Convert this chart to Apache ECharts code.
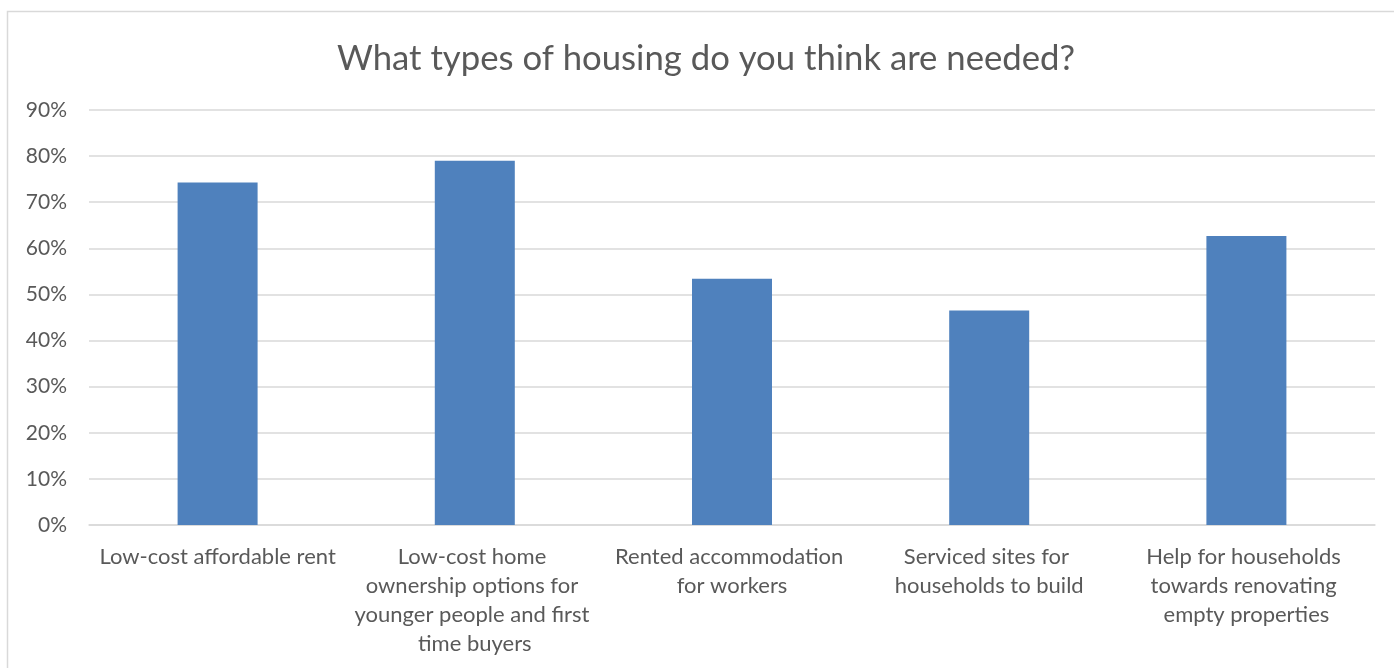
<!DOCTYPE html>
<html>
<head>
<meta charset="utf-8">
<script src="https://cdn.jsdelivr.net/npm/echarts@6/dist/echarts.min.js"></script>
<style>
html,body{margin:0;padding:0;background:#fff;}
#chart{width:1394px;height:668px;}
</style>
</head>
<body>
<div id="chart"></div>
<script>
const titleText = 'What types of housing do you think are needed?';
const categories = [
  'Low-cost affordable rent',
  'Low-cost home ownership options for younger people and first time buyers',
  'Rented accommodation for workers',
  'Serviced sites for households to build',
  'Help for households towards renovating empty properties'
];
const values = [74.3, 79.0, 53.4, 46.5, 62.7];
const yTicks = [0, 10, 20, 30, 40, 50, 60, 70, 80, 90];

const chart = echarts.init(document.getElementById('chart'));
const FONT = 'Lato';
chart.setOption({
  animation: false,
  backgroundColor: '#fff',
  graphic: [{
    type: 'rect',
    shape: {x: 7.5, y: 11.5, width: 1420, height: 700},
    style: {fill: 'none', stroke: '#d9d9d9', lineWidth: 1.5},
    silent: true
  }],
  title: {
    text: titleText,
    left: 332,
    top: 36,
    textStyle: {fontFamily: FONT, fontSize: 34.7, fontWeight: 'normal', color: '#595959'}
  },
  grid: {left: 89, right: 19, top: 110, bottom: 143, containLabel: false},
  xAxis: {
    type: 'category',
    data: categories,
    axisLine: {lineStyle: {color: '#d9d9d9', width: 1.5}},
    axisTick: {show: false},
    axisLabel: {
      interval: 0,
      margin: 17,
      width: 248,
      overflow: 'break',
      lineHeight: 29,
      fontFamily: FONT,
      fontSize: 22,
      color: '#595959'
    }
  },
  yAxis: {
    type: 'value',
    min: yTicks[0],
    max: yTicks[yTicks.length - 1],
    interval: 10,
    axisLine: {show: false},
    axisTick: {show: false},
    splitLine: {lineStyle: {color: '#d9d9d9', width: 1.5}},
    axisLabel: {
      formatter: v => v + '%',
      margin: 22,
      fontFamily: FONT,
      fontSize: 21,
      color: '#595959'
    }
  },
  series: [{
    type: 'bar',
    data: values,
    barWidth: 80,
    itemStyle: {color: '#4f81bd'}
  }]
});
</script>
</body>
</html>
